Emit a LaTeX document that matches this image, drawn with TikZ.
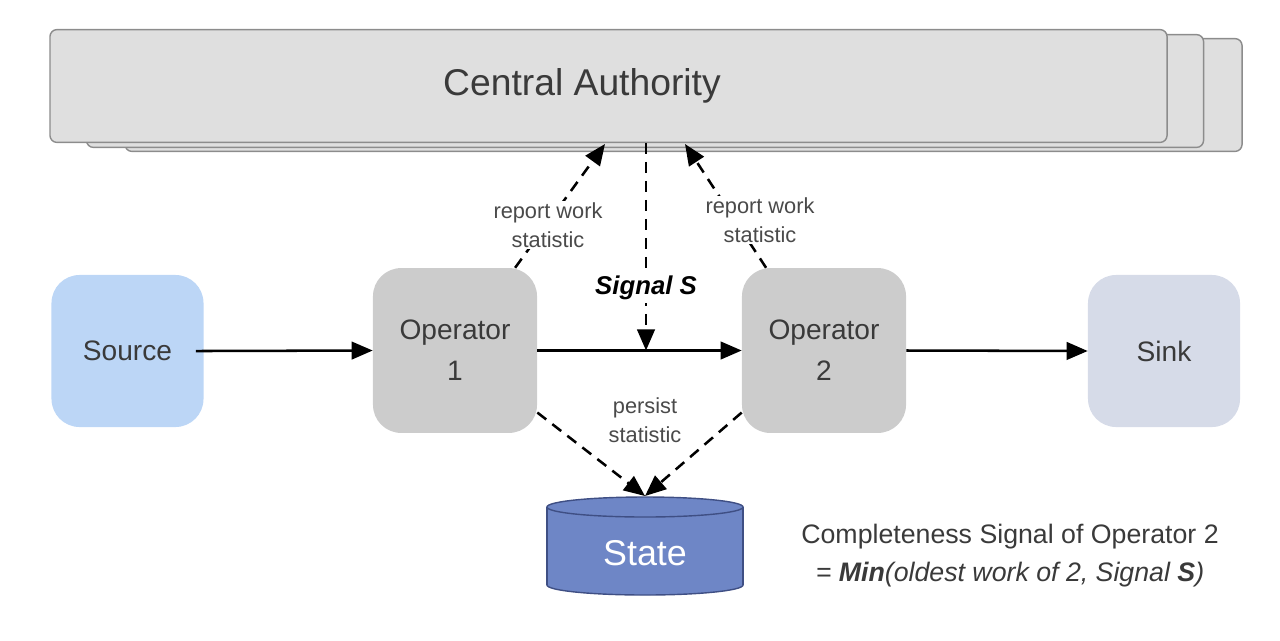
\documentclass[tikz,border=0pt]{standalone}
\usepackage{fontspec}
\setmainfont{Liberation Sans}
\usetikzlibrary{arrows.meta,calc}
\definecolor{SourceClr}{HTML}{BCD6F6}
\definecolor{OpClr}{HTML}{CCCCCC}
\definecolor{SinkClr}{HTML}{D6DBE8}
\definecolor{CAClr}{HTML}{DFDFDF}
\definecolor{CAEdge}{HTML}{8C8C8C}
\definecolor{StateClr}{HTML}{6E86C6}
\definecolor{StateEdge}{HTML}{3F4F84}
\definecolor{TextClr}{HTML}{3A3A3A}
\definecolor{LblClr}{HTML}{4A4A4A}

\begin{document}
\begin{tikzpicture}[x=0.025cm,y=-0.025cm,
  box/.style={rounded corners=20pt,minimum width=4.1cm,minimum height=4.12cm,
    align=center,text=TextClr,font=\fontsize{20}{29}\selectfont},
  endbox/.style={box,minimum width=3.8cm,minimum height=3.8cm},
  castack/.style={draw=CAEdge,fill=CAClr,rounded corners=5pt,line width=1pt,
    minimum width=27.92cm,minimum height=2.82cm},
  flow/.style={line width=1.8pt,-{Triangle[length=15pt,width=12.5pt]}},
  sig/.style={flow,dash pattern=on 8pt off 5.5pt},
  lbl/.style={fill=white,inner sep=1pt,align=center,text=LblClr,
    font=\fontsize{15.5}{20.5}\selectfont}]

\useasboundingbox (0,0) rectangle (1280,640);

\node[castack] (ca3) at (683.5,95) {};
\node[castack] (ca2) at (645,91) {};
\node[castack] (ca) at (608.5,86) {};
\node[text=TextClr,font=\fontsize{26.5}{30}\selectfont] (catext) at (582,86) {Central Authority};

\node[endbox,fill=SourceClr] (source) at (127.5,351) {Source};
\node[box,fill=OpClr] (op1) at (455,350.5) {Operator\\1};
\node[box,fill=OpClr] (op2) at (824,350.5) {Operator\\2};
\node[endbox,fill=SinkClr] (sink) at (1164,351) {Sink};

% the state store
\filldraw[fill=StateClr,draw=StateEdge,line width=1pt] (645,585) ellipse [x radius=2.45cm,y radius=0.25cm];
\fill[StateClr] (547,507) rectangle (743,585);
\draw[StateEdge,line width=1pt] (547,507) -- (547,585) (743,507) -- (743,585);
\filldraw[fill=StateClr,draw=StateEdge,line width=1pt] (645,507) ellipse [x radius=2.45cm,y radius=0.25cm];
\node[text=white,font=\fontsize{25.5}{30}\selectfont] (state) at (645,553) {State};
\coordinate (statetop) at (645,496);

\coordinate (repL) at (605,144);
\coordinate (repR) at (685,144);
\coordinate (sigtop) at (646,143);
\coordinate (sigend) at (646,350.5);

\draw[flow,shorten <=-0.2cm] (source.east) -- (op1.west);
\draw[flow] (op1.east) -- (op2.west);
\draw[flow] (op2.east) -- (sink.west);

\draw[sig] (sigtop) -- (sigend);
\draw[sig] (op1.54) -- (repL);
\draw[sig] (op2.125) -- (repR);
\draw[sig] (op1.-37) -- (statetop);
\draw[sig] (op2.-143) -- (statetop);

\node[lbl] (repLlbl) at (548,225) {report work\\statistic};
\node[lbl] (repRlbl) at (760,220) {report work\\statistic};
\node[lbl] (perlbl) at (645,420) {persist\\statistic};
\node[fill=white,inner sep=2pt,text=black,font=\bfseries\itshape\fontsize{18.3}{22}\selectfont] (siglbl) at (646,288) {Signal S};

\node[align=center,text=TextClr,font=\fontsize{19}{27}\selectfont] (note) at (1010,556)
  {Completeness Signal of Operator 2\\
   \itshape = \textbf{Min}(oldest work of 2, Signal \textbf{S})};

\end{tikzpicture}
\end{document}
